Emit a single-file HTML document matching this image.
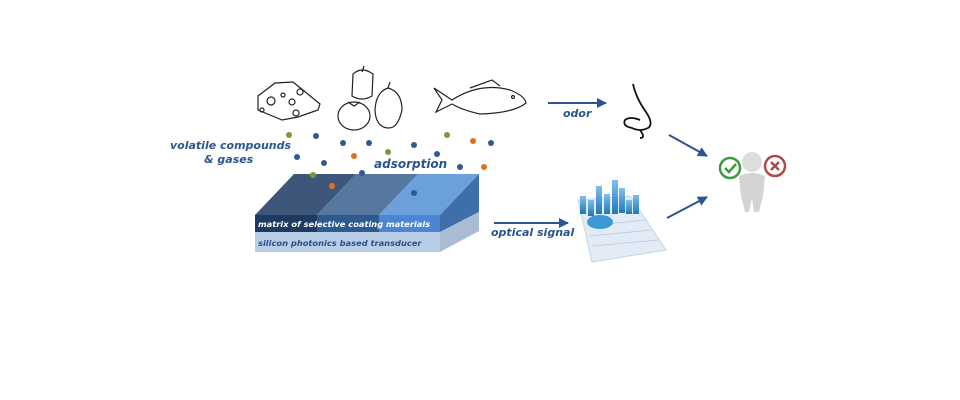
<!DOCTYPE html>
<html><head><meta charset="utf-8"><style>
html,body{margin:0;padding:0;background:#fff;width:960px;height:400px;overflow:hidden}
text{font-family:"DejaVu Sans","Liberation Sans",sans-serif;font-style:italic;font-weight:bold}
</style></head><body>
<svg width="960" height="400" viewBox="0 0 960 400" xmlns="http://www.w3.org/2000/svg">
<defs><marker id="a" viewBox="0 0 10 10" refX="9" refY="5" markerWidth="5" markerHeight="5" orient="auto"><path d="M0,0L10,5L0,10z" fill="#2a5590"/></marker>
<linearGradient id="b" x1="0" y1="0" x2="0" y2="1"><stop offset="0" stop-color="#7ec0ee"/><stop offset="1" stop-color="#1f78b8"/></linearGradient></defs>
<polygon points="255,215 294,174 356,174 317,215" fill="#3d5679"/>
<polygon points="317,215 356,174 418,174 379,215" fill="#56779f"/>
<polygon points="379,215 418,174 479,174 440,215" fill="#6ba0dd"/>
<rect x="255" y="215" width="62" height="17" fill="#1f3a60"/>
<rect x="317" y="215" width="62" height="17" fill="#2f5a8f"/>
<rect x="379" y="215" width="61" height="17" fill="#4a86d2"/>
<rect x="255" y="232" width="185" height="20" fill="#b8cde6"/>
<polygon points="440,215 479,174 479,212 440,232" fill="#3f6fab"/>
<polygon points="440,232 479,212 479,231 440,252" fill="#a9bcd3"/>
<text x="258" y="227" font-size="8.3" fill="#fff">matrix  of selective  coating  materials</text>
<text x="258" y="246" font-size="8.3" fill="#2a4f86">silicon  photonics  based  transducer</text>
<g fill="#7a9a3a"><circle cx="289" cy="135" r="3"/><circle cx="313" cy="175" r="3"/><circle cx="388" cy="152" r="3"/><circle cx="447" cy="135" r="3"/></g>
<g fill="#2f5a94"><circle cx="316" cy="136" r="3"/><circle cx="297" cy="157" r="3"/><circle cx="324" cy="163" r="3"/><circle cx="343" cy="143" r="3"/><circle cx="362" cy="173" r="3"/><circle cx="369" cy="143" r="3"/><circle cx="414" cy="145" r="3"/><circle cx="437" cy="154" r="3"/><circle cx="460" cy="167" r="3"/><circle cx="491" cy="143" r="3"/><circle cx="414" cy="193" r="3"/></g>
<g fill="#e0701a"><circle cx="354" cy="156" r="3"/><circle cx="332" cy="186" r="3"/><circle cx="473" cy="141" r="3"/><circle cx="484" cy="167" r="3"/></g>
<text x="170" y="149" font-size="11" fill="#2a5590">volatile compounds</text>
<text x="204" y="163" font-size="11" fill="#2a5590">&amp; gases</text>
<text x="374" y="168" font-size="12" fill="#2a5590">adsorption</text>
<g fill="none" stroke="#222" stroke-width="1.2">
<path d="M258,96 L275,83 L293,82 L320,104 L318,110 L298,117 L282,120 L258,110 Z"/>
<circle cx="271" cy="101" r="4"/><circle cx="292" cy="102" r="3"/><circle cx="300" cy="92" r="3"/><circle cx="283" cy="95" r="2"/><circle cx="296" cy="113" r="3"/><circle cx="262" cy="110" r="2"/>
<path d="M353,74 Q362,66 373,74 L372,96 Q362,102 352,96 Z"/><path d="M362,72 L364,66"/>
<ellipse cx="354" cy="116" rx="16" ry="14"/><path d="M348,102 l6,4 l6,-4"/>
<path d="M388,88 Q402,92 402,110 Q398,128 389,128 Q376,128 375,110 Q376,92 388,88"/><path d="M388,88 l2,-6"/>
<path d="M452,100 Q480,82 510,90 Q525,96 526,103 Q514,113 480,114 Q462,110 452,104 L436,112 L442,100 L434,88 Z"/>
<path d="M470,88 L492,80 L500,86"/><circle cx="513" cy="97" r="1.5"/>
<path d="M633,84 Q636,98 646,112 Q654,124 648,128 Q640,132 632,128 Q622,126 625,120 Q630,116 640,120 M640,130 Q646,138 640,138" stroke="#111" stroke-width="1.8"/>
</g>
<g stroke="#2a5590" stroke-width="2" fill="none" marker-end="url(#a)">
<line x1="548" y1="103" x2="606" y2="103"/>
<line x1="494" y1="223" x2="568" y2="223"/>
<line x1="669" y1="135" x2="707" y2="156"/>
<line x1="667" y1="218" x2="707" y2="197"/>
</g>
<text x="563" y="117" font-size="11" fill="#2a5590">odor</text>
<text x="491" y="236" font-size="11" fill="#2a5590">optical signal</text>
<polygon points="578,200 630,196 666,250 592,262" fill="#e2ebf6" stroke="#c5d3e6"/>
<g stroke="#b8cae3" stroke-width="0.8"><line x1="588" y1="226" x2="646" y2="220"/><line x1="590" y1="236" x2="652" y2="230"/><line x1="592" y1="246" x2="658" y2="240"/></g>
<g fill="url(#b)"><rect x="580" y="196" width="6" height="18"/><rect x="588" y="200" width="6" height="16"/><rect x="596" y="186" width="6" height="28"/><rect x="604" y="194" width="6" height="20"/><rect x="612" y="180" width="6" height="34"/><rect x="619" y="188" width="6" height="25"/><rect x="626" y="200" width="6" height="14"/><rect x="633" y="195" width="6" height="19"/></g>
<ellipse cx="600" cy="222" rx="13" ry="7" fill="#3b9ad6"/>
<circle cx="752" cy="162" r="10" fill="#ddd"/>
<path d="M739,176 Q752,170 765,176 L763,196 L759,212 L754,212 L752,198 L749,212 L745,212 L741,196 Z" fill="#d4d4d4"/>
<circle cx="730" cy="168" r="10" fill="#fff" stroke="#3e9a3e" stroke-width="2.5"/>
<path d="M725,168 l4,4 l7,-8" stroke="#3e9a3e" stroke-width="2.5" fill="none"/>
<circle cx="775" cy="166" r="10" fill="#fff" stroke="#b04a4a" stroke-width="2.5"/>
<path d="M771,162 l8,8 M779,162 l-8,8" stroke="#b04a4a" stroke-width="2.5"/>
</svg>
</body></html>
